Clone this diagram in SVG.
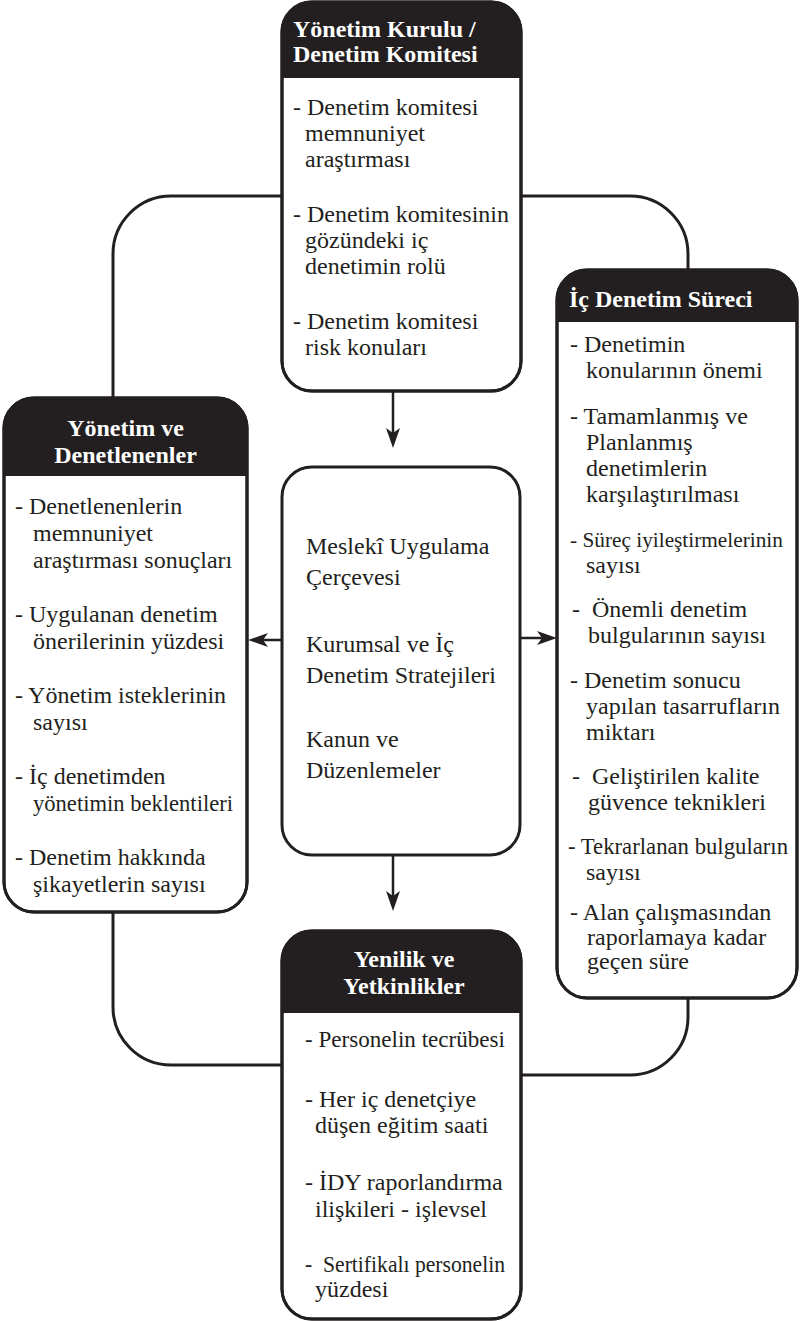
<svg xmlns="http://www.w3.org/2000/svg" width="801" height="1321" viewBox="0 0 801 1321">
<style>
.box{fill:#fff;stroke:#231f20;stroke-width:3}
.hdr{fill:#231f20}
.ht{font-family:"Liberation Serif","Times New Roman",serif;font-weight:bold;font-size:24px;fill:#fff}
.c{text-anchor:middle}
.bt{font-family:"Liberation Serif","Times New Roman",serif;font-size:24px;fill:#231f20;white-space:pre}
.conn{fill:none;stroke:#231f20;stroke-width:3}
.arr{fill:none;stroke:#231f20;stroke-width:2.5}
</style>
<defs>
<marker id="ah" viewBox="0 0 20 14" refX="10" refY="7" markerWidth="20" markerHeight="14" markerUnits="userSpaceOnUse" orient="auto">
<path d="M0,0 L20,7 L0,14 L5,7 Z" fill="#231f20"/>
</marker>
</defs>
<rect width="801" height="1321" fill="#fff"/>

<g id="connectors">
<path class="conn" d="M282,196 H171 A58,58 0 0 0 113,254 V398"/>
<path class="conn" d="M521,196 H630 A58,58 0 0 1 688,254 V270"/>
<path class="conn" d="M113,912 V1007 A58,58 0 0 0 171,1065 H282"/>
<path class="conn" d="M521,1075 H630 A58,58 0 0 0 688,1017 V998"/>
<path class="arr" d="M393,391 V438" marker-end="url(#ah)"/>
<path class="arr" d="M393,855 V901" marker-end="url(#ah)"/>
<path class="arr" d="M282,640 H258" marker-end="url(#ah)"/>
<path class="arr" d="M520,638 H547" marker-end="url(#ah)"/>
</g>

<g id="node-top">
<path class="box" d="M312,2 H491 A30,30 0 0 1 521,32 V361 A30,30 0 0 1 491,391 H312 A30,30 0 0 1 282,361 V32 A30,30 0 0 1 312,2 Z"/>
<path class="hdr" d="M312,2 H491 A30,30 0 0 1 521,32 V78 H282 V32 A30,30 0 0 1 312,2 Z"/>
<path class="box" style="fill:none" d="M312,2 H491 A30,30 0 0 1 521,32 V361 A30,30 0 0 1 491,391 H312 A30,30 0 0 1 282,361 V32 A30,30 0 0 1 312,2 Z"/>
<text class="ht" x="293" y="37">Yönetim Kurulu /</text>
<text class="ht" x="293" y="62">Denetim Komitesi</text>
<text class="bt" x="293" y="115">- Denetim komitesi</text>
<text class="bt" x="305" y="141">memnuniyet</text>
<text class="bt" x="305" y="167">araştırması</text>
<text class="bt" x="293" y="222">- Denetim komitesinin</text>
<text class="bt" x="305" y="248">gözündeki iç</text>
<text class="bt" x="305" y="274">denetimin rolü</text>
<text class="bt" x="293" y="329">- Denetim komitesi</text>
<text class="bt" x="305" y="355">risk konuları</text>
</g>

<g id="node-left">
<path class="box" d="M34,398 H217 A30,30 0 0 1 247,428 V882 A30,30 0 0 1 217,912 H34 A30,30 0 0 1 4,882 V428 A30,30 0 0 1 34,398 Z"/>
<path class="hdr" d="M34,398 H217 A30,30 0 0 1 247,428 V476 H4 V428 A30,30 0 0 1 34,398 Z"/>
<path class="box" style="fill:none" d="M34,398 H217 A30,30 0 0 1 247,428 V882 A30,30 0 0 1 217,912 H34 A30,30 0 0 1 4,882 V428 A30,30 0 0 1 34,398 Z"/>
<text class="ht c" x="125.5" y="436">Yönetim ve</text>
<text class="ht c" x="125.5" y="463">Denetlenenler</text>
<text class="bt" x="15" y="514">- Denetlenenlerin</text>
<text class="bt" x="33" y="541">memnuniyet</text>
<text class="bt" x="33" y="568">araştırması sonuçları</text>
<text class="bt" x="15" y="622">- Uygulanan denetim</text>
<text class="bt" x="33" y="649">önerilerinin yüzdesi</text>
<text class="bt" x="15" y="703">- Yönetim isteklerinin</text>
<text class="bt" x="33" y="730">sayısı</text>
<text class="bt" x="15" y="784">- İç denetimden</text>
<text class="bt" x="33" y="811" textLength="200" lengthAdjust="spacingAndGlyphs">yönetimin beklentileri</text>
<text class="bt" x="15" y="865">- Denetim hakkında</text>
<text class="bt" x="33" y="892">şikayetlerin sayısı</text>
</g>

<g id="node-center">
<path class="box" d="M312,467 H490 A30,30 0 0 1 520,497 V825 A30,30 0 0 1 490,855 H312 A30,30 0 0 1 282,825 V497 A30,30 0 0 1 312,467 Z"/>
<text class="bt" x="306" y="554">Meslekî Uygulama</text>
<text class="bt" x="306" y="585">Çerçevesi</text>
<text class="bt" x="306" y="652">Kurumsal ve İç</text>
<text class="bt" x="306" y="683">Denetim Stratejileri</text>
<text class="bt" x="306" y="747">Kanun ve</text>
<text class="bt" x="306" y="778">Düzenlemeler</text>
</g>

<g id="node-right">
<path class="box" d="M587,270 H767 A30,30 0 0 1 797,300 V968 A30,30 0 0 1 767,998 H587 A30,30 0 0 1 557,968 V300 A30,30 0 0 1 587,270 Z"/>
<path class="hdr" d="M587,270 H767 A30,30 0 0 1 797,300 V322 H557 V300 A30,30 0 0 1 587,270 Z"/>
<path class="box" style="fill:none" d="M587,270 H767 A30,30 0 0 1 797,300 V968 A30,30 0 0 1 767,998 H587 A30,30 0 0 1 557,968 V300 A30,30 0 0 1 587,270 Z"/>
<text class="ht" x="569" y="307">İç Denetim Süreci</text>
<text class="bt" x="570" y="352">- Denetimin</text>
<text class="bt" x="586" y="378">konularının önemi</text>
<text class="bt" x="570" y="424">- Tamamlanmış ve</text>
<text class="bt" x="586" y="450">Planlanmış</text>
<text class="bt" x="586" y="476">denetimlerin</text>
<text class="bt" x="586" y="502">karşılaştırılması</text>
<text class="bt" x="570" y="547" style="font-size:21.3px">- Süreç iyileştirmelerinin</text>
<text class="bt" x="586" y="573">sayısı</text>
<text class="bt" x="572" y="617" xml:space="preserve">-  Önemli denetim</text>
<text class="bt" x="588" y="643">bulgularının sayısı</text>
<text class="bt" x="570" y="688">- Denetim sonucu</text>
<text class="bt" x="586" y="714">yapılan tasarrufların</text>
<text class="bt" x="586" y="740">miktarı</text>
<text class="bt" x="572" y="784" xml:space="preserve">-  Geliştirilen kalite</text>
<text class="bt" x="588" y="810">güvence teknikleri</text>
<text class="bt" x="568" y="854" textLength="220" lengthAdjust="spacingAndGlyphs">- Tekrarlanan bulguların</text>
<text class="bt" x="586" y="880">sayısı</text>
<text class="bt" x="570" y="920">- Alan çalışmasından</text>
<text class="bt" x="587" y="945">raporlamaya kadar</text>
<text class="bt" x="587" y="969">geçen süre</text>
</g>

<g id="node-bottom">
<path class="box" d="M312,931 H491 A30,30 0 0 1 521,961 V1289 A30,30 0 0 1 491,1319 H312 A30,30 0 0 1 282,1289 V961 A30,30 0 0 1 312,931 Z"/>
<path class="hdr" d="M312,931 H491 A30,30 0 0 1 521,961 V1013 H282 V961 A30,30 0 0 1 312,931 Z"/>
<path class="box" style="fill:none" d="M312,931 H491 A30,30 0 0 1 521,961 V1289 A30,30 0 0 1 491,1319 H312 A30,30 0 0 1 282,1289 V961 A30,30 0 0 1 312,931 Z"/>
<text class="ht c" x="404" y="967">Yenilik ve</text>
<text class="ht c" x="404" y="994">Yetkinlikler</text>
<text class="bt" x="305" y="1047" textLength="200" lengthAdjust="spacingAndGlyphs">- Personelin tecrübesi</text>
<text class="bt" x="305" y="1107">- Her iç denetçiye</text>
<text class="bt" x="315" y="1133">düşen eğitim saati</text>
<text class="bt" x="305" y="1190">- İDY raporlandırma</text>
<text class="bt" x="315" y="1217">ilişkileri - işlevsel</text>
<text class="bt" x="305" y="1272" xml:space="preserve" textLength="200" lengthAdjust="spacingAndGlyphs">-  Sertifikalı personelin</text>
<text class="bt" x="315" y="1297">yüzdesi</text>
</g>
</svg>
